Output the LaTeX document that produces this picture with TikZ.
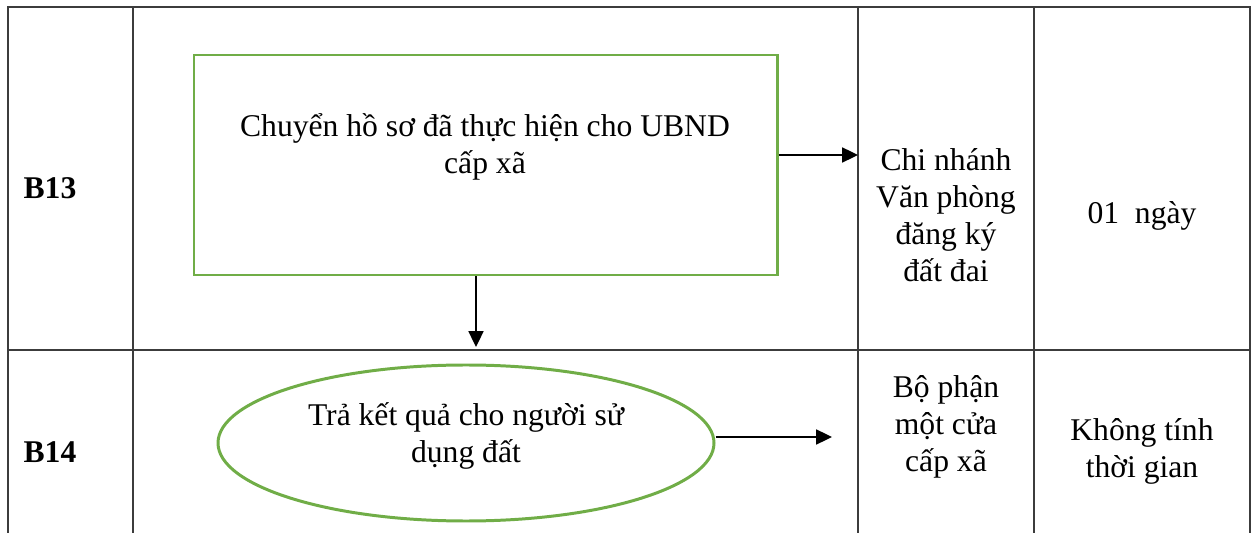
\documentclass[tikz,border=0pt]{standalone}
\usepackage{fontspec}
\setmainfont{Liberation Serif}
\usepackage{xcolor}
\usetikzlibrary{arrows.meta,shapes}
\definecolor{grn}{RGB}{112,173,71}
\definecolor{rule}{RGB}{60,60,60}

\begin{document}
\begin{tikzpicture}[x=0.02cm,y=-0.02cm,>={Triangle[length=9pt,width=8.5pt]},
  txt/.style={align=center,font=\fontsize{18}{21}\selectfont},
  grid/.style={rule,line width=1.1pt}]
\useasboundingbox(0,0)rectangle(1251,533);
% table
\draw[grid](8,533)--(8,7)--(1250,7)--(1250,533);
\draw[grid](8,350)--(1250,350);
\draw[grid](133,7)--(133,533);
\draw[grid](858,7)--(858,533);
\draw[grid](1034,7)--(1034,533);
% row labels
\node[txt,font=\fontsize{18}{21}\selectfont\bfseries](b13)at(50,188){B13};
\node[txt,font=\fontsize{18}{21}\selectfont\bfseries](b14)at(50,452){B14};
% B13 row
\node[draw=grn,line width=1.7pt,minimum width=583*0.02cm,minimum height=220*0.02cm](box13)at(485.5,165){};
\node[txt](t13)at(485,147){Chuyển hồ sơ đã thực hiện cho UBND\\cấp xã};
\node[txt](who13)at(946,215){Chi nhánh\\Văn phòng\\đăng ký\\đất đai};
\node[txt](time13)at(1142,216){01\ \ ngày};
\coordinate(r13)at(858,155);
\coordinate(d13)at(476,347);
\draw[->,line width=1.1pt](r13-|box13.east)--(r13);
\draw[->,line width=1.1pt](d13|-box13.south)--(d13);
% B14 row
\node[draw=grn,line width=1.7pt,ellipse,minimum width=496*0.02cm,minimum height=156*0.02cm](ell14)at(466,443){};
\node[txt](t14)at(466,436){Trả kết quả cho người sử\\dụng đất};
\node[txt](who14)at(946,427){Bộ phận\\một cửa\\cấp xã};
\node[txt](time14)at(1142,451){Không tính\\thời gian};
\coordinate(r14)at(832,437);
\draw[->,line width=1.1pt](r14-|ell14.east)--(r14);
\end{tikzpicture}
\end{document}
